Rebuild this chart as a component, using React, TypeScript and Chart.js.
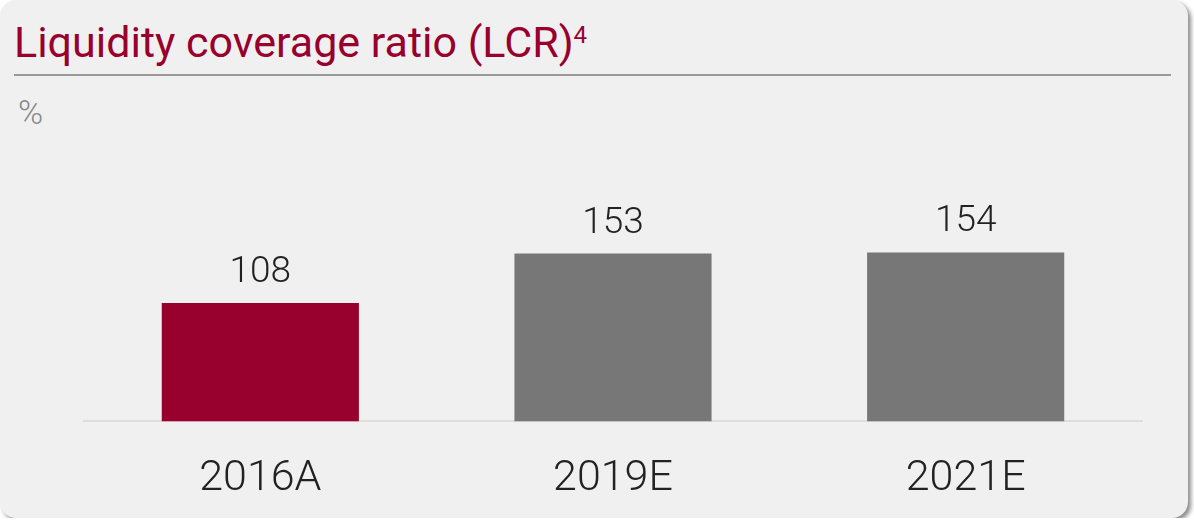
import React, { useEffect, useRef } from "react";
import { Chart, registerables } from "chart.js";

Chart.register(...registerables);

const categories = ["2016A", "2019E", "2021E"];
const values = [108, 153, 154];
const barColors = ["#98002e", "#777777", "#777777"];
const titleText = "Liquidity coverage ratio (LCR)";
const titleNote = "4";
const unitText = "%";

const valueLabels = {
  id: "valueLabels",
  afterDatasetsDraw(chart: any) {
    const ctx = chart.ctx;
    const meta = chart.getDatasetMeta(0);
    ctx.save();
    ctx.font = "300 37px Roboto";
    ctx.fillStyle = "#222222";
    ctx.textAlign = "center";
    ctx.textBaseline = "alphabetic";
    meta.data.forEach((bar: any, i: number) => {
      ctx.fillText(String(values[i]), bar.x, bar.y - 21);
    });
    ctx.restore();
  },
};

export default function App() {
  const ref = useRef<HTMLCanvasElement | null>(null);
  useEffect(() => {
    document.body.style.margin = "0";
    document.body.style.background = "#ffffff";
    const chart = new Chart(ref.current as HTMLCanvasElement, {
      type: "bar",
      data: {
        labels: categories,
        datasets: [
          {
            data: values,
            backgroundColor: barColors,
            borderWidth: 0,
            categoryPercentage: 1,
            barPercentage: 0.559,
          },
        ],
      },
      options: {
        animation: false,
        responsive: false,
        maintainAspectRatio: false,
        layout: { padding: { left: 84, right: 46, top: 202, bottom: 0 } },
        plugins: { legend: { display: false }, tooltip: { enabled: false } },
        scales: {
          y: { display: false, min: 0, max: 200 },
          x: {
            grid: { display: false, drawTicks: false },
            border: { display: true, color: "#dddddd", width: 2 },
            ticks: {
              color: "#222222",
              font: { family: "Roboto", size: 43, weight: "300" as any },
              padding: 32,
            },
          },
        },
      },
      plugins: [valueLabels],
    });
    return () => chart.destroy();
  }, []);

  return (
    <div
      style={{
        position: "relative",
        width: 1188,
        height: 518,
        background: "#f0f0f0",
        borderRadius: 16,
        boxShadow: "3px 3px 4px rgba(0,0,0,0.45)",
        overflow: "hidden",
        fontFamily: "Roboto",
      }}
    >
      <div
        style={{
          position: "absolute",
          left: 14,
          top: 21,
          fontSize: 43,
          lineHeight: "43px",
          color: "#98002e",
          whiteSpace: "nowrap",
        }}
      >
        {titleText}
        <span
          style={{
            fontSize: 24,
            lineHeight: "24px",
            verticalAlign: "top",
            position: "relative",
            top: 2,
          }}
        >
          {titleNote}
        </span>
      </div>
      <div
        style={{
          position: "absolute",
          left: 14,
          top: 74,
          width: 1157,
          height: 2,
          background: "#999999",
        }}
      />
      <div
        style={{
          position: "absolute",
          left: 18,
          top: 92,
          fontSize: 34,
          lineHeight: "40px",
          fontWeight: 300,
          color: "#888888",
        }}
      >
        {unitText}
      </div>
      <canvas
        ref={ref}
        width={1188}
        height={537}
        style={{ position: "absolute", left: 0, top: 0, width: 1188, height: 537 }}
      />
    </div>
  );
}
